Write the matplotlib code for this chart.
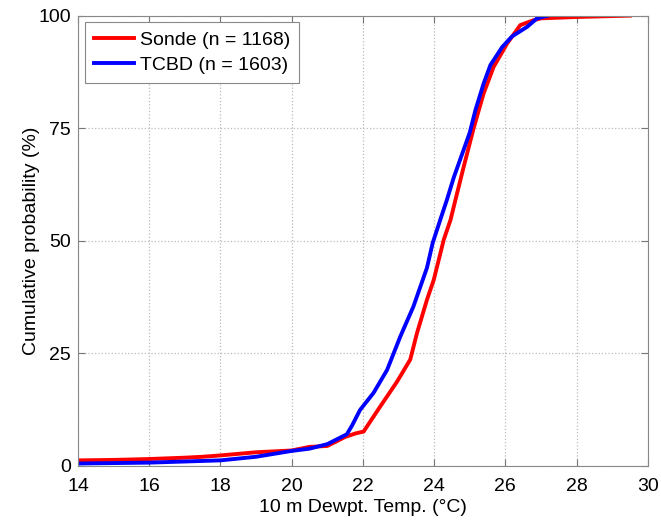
import matplotlib.pyplot as plt

plt.rcParams['font.family'] = ['Liberation Sans', 'DejaVu Sans']

# values
sonde_temp = [14.0, 15.0, 16.0, 17.0, 17.5, 18.0, 19.0, 20.0, 20.5, 21.0, 21.5, 21.8,
              22.02, 22.49, 22.96, 23.33, 23.52, 23.8, 23.99, 24.27, 24.46, 24.6, 24.83,
              25.11, 25.39, 25.67, 26.05, 26.42, 26.8, 27.0, 28.0, 29.5]
sonde_cdf = [1.2, 1.3, 1.5, 1.8, 2.0, 2.3, 3.0, 3.4, 4.2, 4.4, 6.4, 7.2,
             7.6, 13.2, 18.7, 23.6, 29.5, 36.9, 41.3, 50.2, 54.6, 59.1, 66.4,
             75.0, 82.7, 88.6, 93.8, 97.9, 99.0, 99.4, 99.7, 100.0]

tcbd_temp = [14.0, 16.0, 18.0, 19.0, 20.0, 20.5, 21.0, 21.55, 21.7, 21.92, 22.3, 22.68,
             23.05, 23.42, 23.8, 23.96, 24.2, 24.36, 24.55, 25.0, 25.16, 25.39, 25.58,
             25.91, 26.19, 26.61, 26.89, 27.2]
tcbd_cdf = [0.5, 0.7, 1.2, 2.0, 3.3, 3.8, 4.8, 7.0, 9.0, 12.4, 16.2, 21.3,
            28.7, 35.4, 44.0, 49.5, 55.3, 59.1, 64.0, 74.0, 79.0, 84.9, 89.0,
            93.0, 95.4, 97.5, 99.4, 100.0]

xticks = [14, 16, 18, 20, 22, 24, 26, 28, 30]
yticks = [0, 25, 50, 75, 100]

fig = plt.figure(figsize=(6.61, 5.21), dpi=100)
ax = fig.add_axes([0.118, 0.106, 0.862, 0.864])

ax.plot(sonde_temp, sonde_cdf, color='r', lw=2.8, label='Sonde (n = 1168)')
ax.plot(tcbd_temp, tcbd_cdf, color='b', lw=2.8, label='TCBD (n = 1603)')

ax.set_xlim(14, 30)
ax.set_ylim(0, 100)
ax.set_xticks(xticks)
ax.set_yticks(yticks)
ax.grid(True, linestyle=':', color='#bbbbbb', lw=0.9)
ax.tick_params(direction='in', top=True, right=True, length=5,
               labelsize=14, color='#777777')
ax.tick_params(axis='x', pad=9)
ax.tick_params(axis='y', pad=5)
for s in ax.spines.values():
    s.set_color('#888888')

ax.set_xlabel('10 m Dewpt. Temp. (°C)', fontsize=14, labelpad=3)
ax.set_ylabel('Cumulative probability (%)', fontsize=14, labelpad=-1)

leg = ax.legend(loc='upper left', fontsize=14, fancybox=False, framealpha=1,
                handlelength=2.1, borderaxespad=0.35, borderpad=0.45,
                labelspacing=0.4, handletextpad=0.3)
leg.get_frame().set_edgecolor('#888888')
leg.get_frame().set_linewidth(0.8)

plt.savefig('out.png', dpi=100)
plt.close()
